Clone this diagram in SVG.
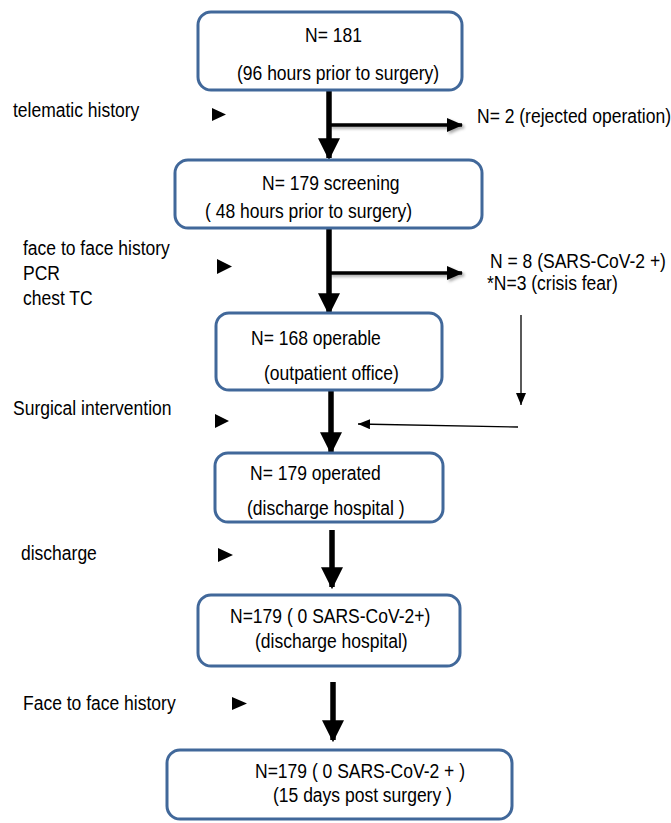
<svg xmlns="http://www.w3.org/2000/svg" width="671" height="823" viewBox="0 0 671 823">
<style>
text{font-family:"Liberation Sans",Arial,sans-serif;font-size:20px;fill:#000}
.box{fill:#fff;stroke:#41689a;stroke-width:3}
.main{stroke:#000;stroke-width:5.5;fill:none}
.br{stroke:#000;stroke-width:3.5;fill:none}
.thin{stroke:#000;stroke-width:1.3;fill:none}
</style>
<defs>
<marker id="mBig" markerUnits="userSpaceOnUse" markerWidth="22" markerHeight="22" viewBox="0 0 20 20" refX="18" refY="10" orient="auto"><path d="M0,0 L20,10 L0,20 Z" fill="#000"/></marker>
<marker id="mBr" markerUnits="userSpaceOnUse" markerWidth="16" markerHeight="14" viewBox="0 0 16 14" refX="15" refY="7" orient="auto"><path d="M0,0 L16,7 L0,14 Z" fill="#000"/></marker>
<marker id="mThin" markerUnits="userSpaceOnUse" markerWidth="12" markerHeight="10" viewBox="0 0 12 10" refX="12" refY="5" orient="auto"><path d="M0,0 L12,5 L0,10 Z" fill="#000"/></marker>
<filter id="sh" filterUnits="userSpaceOnUse" x="0" y="0" width="671" height="823"><feDropShadow dx="2" dy="2" stdDeviation="1.5" flood-color="#000" flood-opacity="0.35"/></filter>
</defs>

<g id="connectors">
<line class="main" x1="329" y1="90" x2="329" y2="158" marker-end="url(#mBig)"/>
<line class="br" x1="329" y1="125" x2="462" y2="125" marker-end="url(#mBr)" filter="url(#sh)"/>
<line class="main" x1="329" y1="228" x2="329" y2="313" marker-end="url(#mBig)"/>
<line class="br" x1="329" y1="273" x2="462" y2="273" marker-end="url(#mBr)" filter="url(#sh)"/>
<line class="thin" x1="521" y1="315" x2="521" y2="405" marker-end="url(#mThin)"/>
<line class="thin" x1="518" y1="427" x2="358" y2="424" marker-end="url(#mThin)"/>
<line class="main" x1="331" y1="389" x2="331" y2="452" marker-end="url(#mBig)"/>
<line class="main" x1="332" y1="530" x2="332" y2="587" marker-end="url(#mBig)"/>
<line class="main" x1="333" y1="682" x2="333" y2="740" marker-end="url(#mBig)"/>
</g>

<g id="triangles">
<path d="M212,108 L226,114.5 L212,121 Z"/>
<path d="M217,259 L232,266.5 L217,274 Z"/>
<path d="M215,414 L229,421 L215,428 Z"/>
<path d="M218,548 L233,555 L218,562 Z"/>
<path d="M232,697 L247,703.5 L232,710 Z"/>
</g>

<g id="side-labels">
<text transform="translate(13 117) scale(.875 1)">telematic history</text>
<text transform="translate(23 255) scale(.875 1)">face to face history</text>
<text transform="translate(23 280) scale(.875 1)">PCR</text>
<text transform="translate(23 305) scale(.875 1)">chest TC</text>
<text transform="translate(13 415) scale(.875 1)">Surgical intervention</text>
<text transform="translate(21 560) scale(.875 1)">discharge</text>
<text transform="translate(23 710) scale(.875 1)">Face to face history</text>
</g>

<g id="excluded-1"><text transform="translate(477 123) scale(.875 1)">N= 2 (rejected operation)</text></g>
<g id="excluded-2">
<text transform="translate(490 268) scale(.875 1)">N = 8 (SARS-CoV-2 +)</text>
<text transform="translate(487 290) scale(.875 1)">*N=3 (crisis fear)</text>
</g>

<g id="n1"><rect class="box" x="198" y="12" width="264" height="78" rx="13"/>
<text transform="translate(305 42) scale(.875 1)">N= 181</text>
<text transform="translate(237 80) scale(.875 1)">(96 hours prior to surgery)</text></g>

<g id="n2"><rect class="box" x="175" y="160" width="307" height="68" rx="13"/>
<text transform="translate(262 190) scale(.875 1)">N= 179 screening</text>
<text transform="translate(205 218) scale(.875 1)">( 48 hours prior to surgery)</text></g>

<g id="n3"><rect class="box" x="216" y="313" width="226" height="77" rx="13"/>
<text transform="translate(251 345) scale(.875 1)">N= 168 operable</text>
<text transform="translate(264 380) scale(.875 1)">(outpatient office)</text></g>

<g id="n4"><rect class="box" x="215" y="453" width="228" height="69" rx="13"/>
<text transform="translate(250 480) scale(.875 1)">N= 179 operated</text>
<text transform="translate(247 515) scale(.875 1)">(discharge hospital )</text></g>

<g id="n5"><rect class="box" x="198" y="595" width="262" height="71" rx="13"/>
<text transform="translate(230 623) scale(.875 1)">N=179 ( 0 SARS-CoV-2+)</text>
<text transform="translate(255 648) scale(.875 1)">(discharge hospital)</text></g>

<g id="n6"><rect class="box" x="167" y="750" width="345" height="69" rx="13"/>
<text transform="translate(255 778) scale(.875 1)">N=179 ( 0  SARS-CoV-2 + )</text>
<text transform="translate(273 802) scale(.875 1)">(15 days post surgery )</text></g>
</svg>
